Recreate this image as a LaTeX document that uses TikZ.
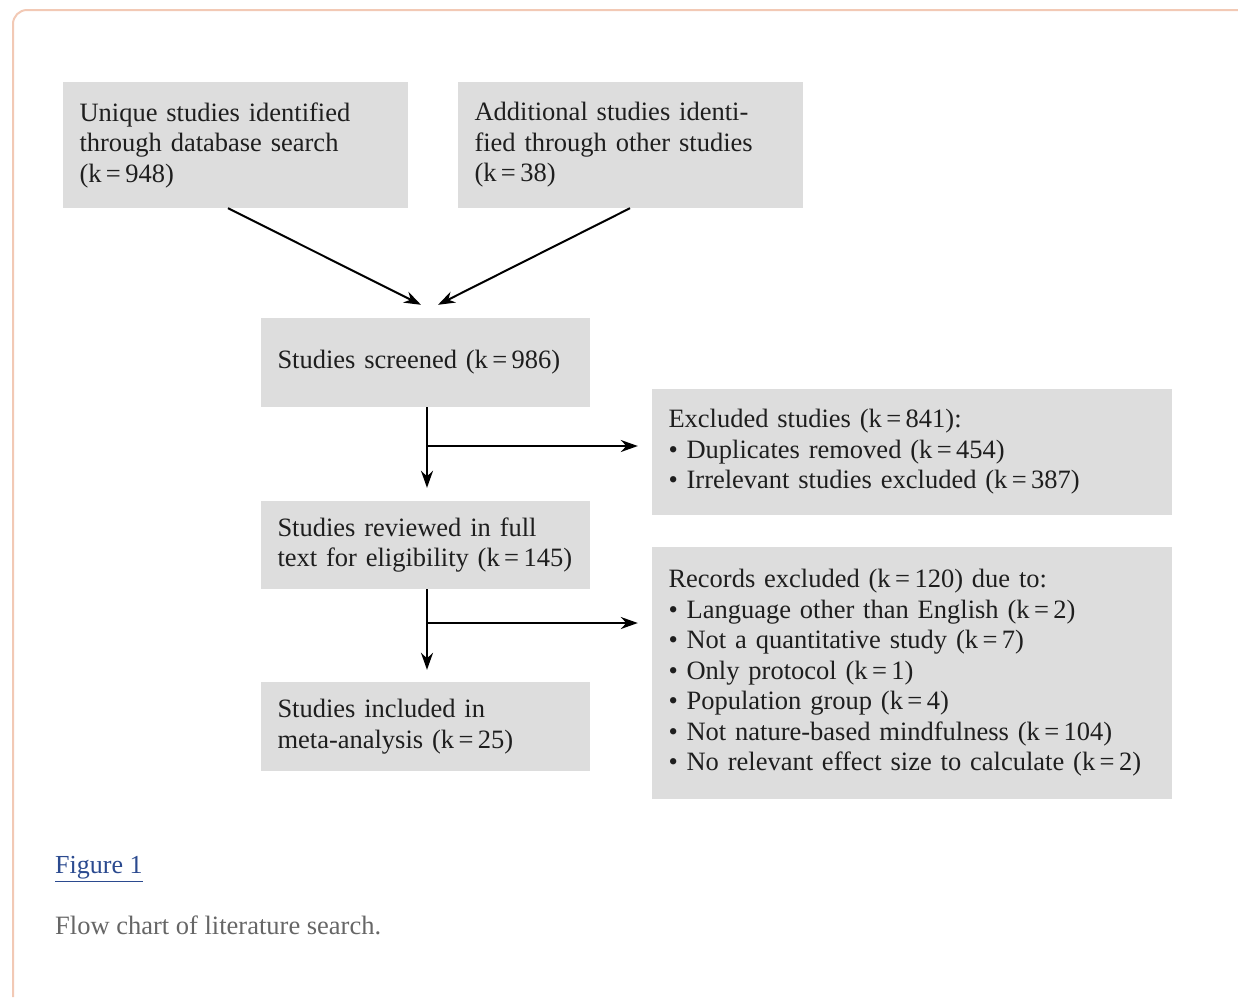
\documentclass[tikz,border=0pt]{standalone}
\usepackage{fontspec}
\setmainfont{Liberation Serif}
\usetikzlibrary{arrows.meta}

\definecolor{boxgray}{HTML}{DDDDDD}
\definecolor{boxtext}{HTML}{1E1E1E}
\definecolor{framecolor}{HTML}{F2C9B5}
\definecolor{linkblue}{HTML}{2B4A8F}
\definecolor{captiongray}{HTML}{666666}

\newcommand{\kis}[1]{(k\,=\,#1)}
\newcommand{\bul}{\textbullet\ }

\tikzset{
    flowbox/.style={fill=boxgray, text=boxtext, align=left, inner xsep=16.5pt, inner ysep=0pt,
        font=\fontsize{26.5}{30.5}\selectfont},
    flowarrow/.style={-{Stealth[length=17pt,width=12pt]}, line width=2pt}
}

\begin{document}
\begin{tikzpicture}[x=1pt, y=-1pt]

    \useasboundingbox (0,0) rectangle (1238,997);
    \draw[framecolor, line width=2pt, rounded corners=14pt] (13,997) |- (1238,10);

    % Nodes
    \node [flowbox, minimum width=345pt, minimum height=126pt, text width=312pt] (unique) at (235.5,145)
        {Unique studies identified\\through database search\\\kis{948}};
    \node [flowbox, minimum width=345pt, minimum height=126pt, text width=312pt] (additional) at (630.5,145)
        {Additional studies identi-\\fied through other studies\\\kis{38}};
    \node [flowbox, minimum width=329pt, minimum height=89pt, text width=296pt] (screened) at (425.5,362.5)
        {Studies screened \kis{986}};
    \node [flowbox, minimum width=329pt, minimum height=88pt, text width=296pt] (fulltext) at (425.5,545)
        {Studies reviewed in full\\text for eligibility \kis{145}};
    \node [flowbox, minimum width=329pt, minimum height=89pt, text width=296pt] (included) at (425.5,726.5)
        {Studies included in\\meta-analysis \kis{25}};
    \node [flowbox, minimum width=520pt, minimum height=126pt, text width=487pt] (excluded) at (912,452)
        {Excluded studies \kis{841}:\\
         \bul Duplicates removed \kis{454}\\
         \bul Irrelevant studies excluded \kis{387}};
    \node [flowbox, minimum width=520pt, minimum height=252pt, text width=487pt] (records) at (912,673)
        {Records excluded \kis{120} due to:\\
         \bul Language other than English \kis{2}\\
         \bul Not a quantitative study \kis{7}\\
         \bul Only protocol \kis{1}\\
         \bul Population group \kis{4}\\
         \bul Not nature-based mindfulness \kis{104}\\
         \bul No relevant effect size to calculate \kis{2}};

    \coordinate (split1) at (427,446);
    \coordinate (split2) at (427,623);

    % Arrows
    \draw[flowarrow] ([xshift=-7.5pt]unique.south) -- ([xshift=-4.5pt,yshift=13pt]screened.north);
    \draw[flowarrow] ([xshift=-0.5pt]additional.south) -- ([xshift=12.5pt,yshift=13pt]screened.north);
    \draw[flowarrow] ([xshift=1.5pt]screened.south) -- ([xshift=1.5pt,yshift=13pt]fulltext.north);
    \draw[flowarrow, shorten >=14pt] (split1) -- (split1 -| excluded.west);
    \draw[flowarrow] ([xshift=1.5pt]fulltext.south) -- ([xshift=1.5pt,yshift=12pt]included.north);
    \draw[flowarrow, shorten >=14pt] (split2) -- (split2 -| records.west);

    % Caption
    \node [anchor=west, inner sep=0pt, text=linkblue, font=\fontsize{26}{30}\selectfont] (figlabel) at (55,869)
        {\underline{Figure 1}};
    \node [anchor=west, inner sep=0pt, text=captiongray, font=\fontsize{26.5}{30}\selectfont] (caption) at (55,925)
        {Flow chart of literature search.};

\end{tikzpicture}
\end{document}
